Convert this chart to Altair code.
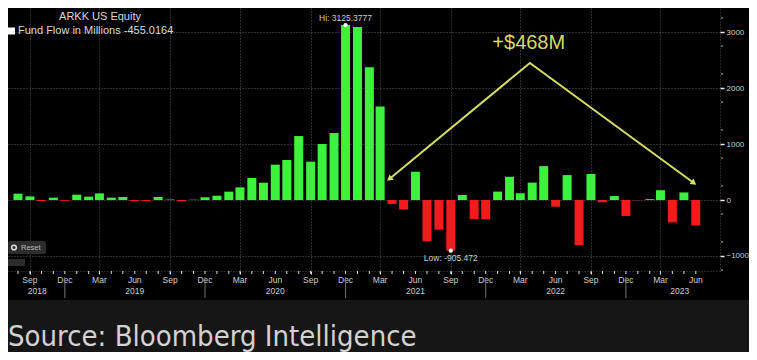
import altair as alt
import pandas as pd

# ---------------- data ----------------
months = [
    "2018-08", "2018-09", "2018-10", "2018-11", "2018-12",
    "2019-01", "2019-02", "2019-03", "2019-04", "2019-05", "2019-06",
    "2019-07", "2019-08", "2019-09", "2019-10", "2019-11", "2019-12",
    "2020-01", "2020-02", "2020-03", "2020-04", "2020-05", "2020-06",
    "2020-07", "2020-08", "2020-09", "2020-10", "2020-11", "2020-12",
    "2021-01", "2021-02", "2021-03", "2021-04", "2021-05", "2021-06",
    "2021-07", "2021-08", "2021-09", "2021-10", "2021-11", "2021-12",
    "2022-01", "2022-02", "2022-03", "2022-04", "2022-05", "2022-06",
    "2022-07", "2022-08", "2022-09", "2022-10", "2022-11", "2022-12",
    "2023-01", "2023-02", "2023-03", "2023-04", "2023-05", "2023-06",
]
flows = [
    113, 65, -20, 42, -15,
    95, 60, 119, 42, 54, -20,
    -20, 54, 8, -25, 5, 48,
    77, 149, 226, 393, 309, 631,
    714, 1142, 684, 1000, 1196, 3125.3777,
    3090, 2370, 1670, -70, -170, 505,
    -740, -530, -905.472, 90, -340, -345,
    150, 415, 120, 310, 605, -120,
    445, -805, 465, -40, 70, -285,
    -5, 15, 175, -400, 135, -455.0164,
]

month_names = ["Jan", "Feb", "Mar", "Apr", "May", "Jun",
               "Jul", "Aug", "Sep", "Oct", "Nov", "Dec"]

y_ticks = [-1000, -500, 0, 500, 1000, 1500, 2000, 2500, 3000]
y_minor = [-1250, -750, -250, 250, 750, 1250, 1750, 2250, 2750, 3250]

year_labels = ["2018", "2019", "2020", "2021", "2022", "2023"]
year_label_dates = ["2018-09-20", "2019-06-01", "2020-06-01",
                    "2021-06-01", "2022-06-01", "2023-04-20"]
year_sep_dates = ["2018-12-01", "2019-12-01", "2020-12-01",
                  "2021-12-01", "2022-12-01"]

hi_lo_dates = ["2020-12-01", "2021-09-01"]
hi_lo_values = [3125.3777, -905.472]
hi_lo_labels = ["Hi: 3125.3777", "Low: -905.472"]

arrow_dates = ["2021-03-25", "2022-03-26", "2023-05-27"]
arrow_values = [375, 2447, 304]
arrow_head_dates = ["2021-03-25", "2023-05-27"]
arrow_head_values = [375, 304]
arrow_head_angles = [231, 125.5]
note_text = "+$468M"
note_date = "2022-03-23"
note_value = 2804

legend_title = "ARKK US Equity"
legend_series = "Fund Flow in Millions -455.0164"
source_text = "Source: Bloomberg Intelligence"

# ---------------- styling ----------------
W, H = 712, 263
GREEN = "#3cf23c"
RED = "#f01c1c"
YELLOW = "#d6dc62"
LABEL = "#cfcfcf"
GRID = "#5a5a5a"
FONT = "Liberation Sans"


def ts(s):
    return s + "T00:00:00"


def dt(y, m, d):
    return alt.DateTime(year=y, month=m, date=d)


quarter_months = [m for m in months if int(m[5:]) in (3, 6, 9, 12)]
quarter_values = [dt(int(m[:4]), int(m[5:]), 1) for m in quarter_months]
quarter_df = pd.DataFrame({
    "date": [ts(m + "-01") for m in quarter_months],
    "label": [month_names[int(m[5:]) - 1] for m in quarter_months],
})

xscale = alt.Scale(domain=[dt(2018, 7, 19), dt(2023, 7, 21)])
yscale = alt.Scale(domain=[-1268, 3429], nice=False, zero=False)

df = pd.DataFrame({
    "date": [ts(m + "-01") for m in months],
    "value": flows,
    "sign": ["pos" if v >= 0 else "neg" for v in flows],
})

xaxis = alt.Axis(values=quarter_values, labels=False, tickColor="#e6e6e6",
                 tickSize=3, tickWidth=1, grid=True,
                 gridColor=GRID, gridDash=[1, 2], domain=True,
                 domainColor="#4a4a4a", domainDash=[1, 2])
yaxis = alt.Axis(orient="right", values=y_ticks, format="d", labelColor=LABEL,
                 labelFontSize=8, labelFont=FONT, tickColor="#f0f0f0",
                 tickSize=4, tickWidth=1.5, labelPadding=2, grid=True,
                 gridColor=GRID, gridDash=[1, 2], domain=True,
                 domainColor="#4a4a4a", domainDash=[1, 2],
                 labelFlush=False, labelOverlap=False)

X = alt.X("date:T", scale=xscale, title=None)
Y = alt.Y("value:Q", scale=yscale, title=None)

# bottom strip
strip = alt.Chart(pd.DataFrame({"t": [source_text]})).mark_rect(
    color="#161616").encode(
    x=alt.value(0), x2=alt.value(W + 40), y=alt.value(H + 29), y2=alt.value(H + 90))
source = alt.Chart(pd.DataFrame({"t": [source_text]})).mark_text(
    align="left", baseline="alphabetic", fontSize=29, color="#d2d2d2",
    font="DejaVu Sans Condensed, Liberation Sans Narrow, DejaVu Sans").encode(
    x=alt.value(0), y=alt.value(H + 75), text="t:N")

bars = alt.Chart(df).mark_bar(size=9).encode(
    x=alt.X("date:T", scale=xscale, axis=xaxis, title=None),
    y=alt.Y("value:Q", scale=yscale, axis=yaxis, title=None),
    color=alt.Color("sign:N", scale=alt.Scale(domain=["pos", "neg"],
                                              range=[GREEN, RED]), legend=None),
)

month_ticks = alt.Chart(df).mark_rule(color="#dddddd", strokeWidth=1).encode(
    x=X, y=alt.value(H), y2=alt.value(H + 3))

month_labels = alt.Chart(quarter_df).mark_text(
    fontSize=8.5, color=LABEL, font=FONT, baseline="middle").encode(
    x=X, y=alt.value(H + 9), text="label:N")

ymin = alt.Chart(pd.DataFrame({"value": y_minor})).mark_rule(
    color="#bbbbbb", strokeWidth=1).encode(
    y=Y, x=alt.value(W + 1), x2=alt.value(W + 3))

seps = alt.Chart(pd.DataFrame({"date": [ts(d) for d in year_sep_dates]})).mark_rule(
    color="#707070", strokeWidth=1).encode(
    x=X, y=alt.value(H + 6), y2=alt.value(H + 27))

years = alt.Chart(pd.DataFrame({"date": [ts(d) for d in year_label_dates],
                                "year": year_labels})).mark_text(
    fontSize=8.5, color=LABEL, font=FONT, baseline="middle").encode(
    x=X, y=alt.value(H + 20), text="year:N")

hl_df = pd.DataFrame({"date": [ts(d) for d in hi_lo_dates],
                      "value": hi_lo_values, "label": hi_lo_labels})
hl_pts = alt.Chart(hl_df).mark_point(filled=True, color="white", size=18,
                                     opacity=1).encode(x=X, y=Y)
hi_txt = alt.Chart(hl_df.iloc[[0]]).mark_text(
    fontSize=8.5, color=LABEL, font=FONT, dy=-7, baseline="middle").encode(
    x=X, y=Y, text="label:N")
lo_txt = alt.Chart(hl_df.iloc[[1]]).mark_text(
    fontSize=8.5, color=LABEL, font=FONT, dy=7, baseline="middle").encode(
    x=X, y=Y, text="label:N")

arrow_df = pd.DataFrame({"date": [ts(d) for d in arrow_dates],
                         "value": arrow_values, "seq": [0, 1, 2]})
arrow = alt.Chart(arrow_df).mark_line(color=YELLOW, strokeWidth=2).encode(
    x=X, y=Y, order="seq:Q")
heads = alt.Chart(pd.DataFrame({"date": [ts(d) for d in arrow_head_dates],
                                "value": arrow_head_values,
                                "angle": arrow_head_angles})).mark_point(
    shape="triangle-up", filled=True, color=YELLOW, size=45, opacity=1).encode(
    x=X, y=Y, angle=alt.Angle("angle:Q", scale=None))
note = alt.Chart(pd.DataFrame({"date": [ts(note_date)], "value": [note_value],
                               "t": [note_text]})).mark_text(
    fontSize=20, color=YELLOW, font=FONT, baseline="middle").encode(
    x=X, y=Y, text="t:N")

leg1 = alt.Chart(pd.DataFrame({"t": [legend_title]})).mark_text(
    fontSize=11, color="#d8d8d8", font=FONT, baseline="middle").encode(
    x=alt.value(92), y=alt.value(9), text="t:N")
leg2 = alt.Chart(pd.DataFrame({"t": [legend_series]})).mark_text(
    fontSize=11, color="#d8d8d8", font=FONT, baseline="middle", align="left").encode(
    x=alt.value(10), y=alt.value(23), text="t:N")
leg_sq = alt.Chart(pd.DataFrame({"t": [legend_series]})).mark_rect(
    color="white").encode(
    x=alt.value(0), x2=alt.value(7), y=alt.value(19.5), y2=alt.value(26.5))

reset_box = alt.Chart(pd.DataFrame({"t": ["Reset"]})).mark_rect(
    color="#2c2c2c", cornerRadius=2).encode(
    x=alt.value(0), x2=alt.value(38), y=alt.value(H - 30), y2=alt.value(H - 17))
reset_dot = alt.Chart(pd.DataFrame({"t": ["Reset"]})).mark_point(
    color="#e0e0e0", size=22, strokeWidth=1.5, opacity=1).encode(
    x=alt.value(6), y=alt.value(H - 23.5))
reset_txt = alt.Chart(pd.DataFrame({"t": ["Reset"]})).mark_text(
    fontSize=7.5, color="#bbbbbb", font=FONT, align="left", baseline="middle").encode(
    x=alt.value(13), y=alt.value(H - 23.5), text="t:N")
icon_box = alt.Chart(pd.DataFrame({"t": ["i"]})).mark_rect(
    color="#2c2c2c").encode(
    x=alt.value(0), x2=alt.value(17), y=alt.value(H - 12), y2=alt.value(H - 5))

chart = alt.layer(
    strip, source, bars, month_ticks, month_labels, ymin, seps, years, arrow,
    heads, note, hl_pts, hi_txt, lo_txt, leg_sq, leg1, leg2, reset_box,
    reset_dot, reset_txt, icon_box,
).properties(
    width=W, height=H,
    autosize=alt.AutoSizeParams(type="none"),
    padding={"left": 0, "top": 0, "right": 29, "bottom": 81},
    background="#000000",
).configure_view(strokeWidth=0)

chart.save("out.html", embed_options={"renderer": "svg", "actions": False})
